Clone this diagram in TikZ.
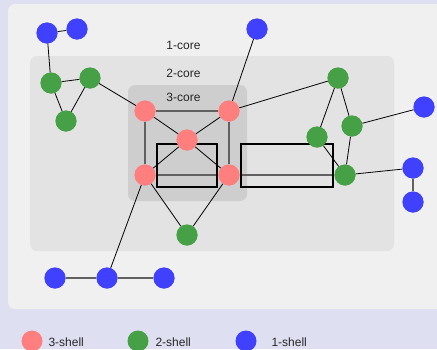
\documentclass[tikz,border=0pt]{standalone}
\usepackage{fontspec}
\setmainfont{Liberation Sans}
\definecolor{bgpage}{HTML}{DFDFF2}
\definecolor{panel}{HTML}{F0F0F0}
\definecolor{coretwo}{HTML}{E3E3E3}
\definecolor{corethree}{HTML}{CECECE}
\definecolor{shellthree}{HTML}{FF7F7F}
\definecolor{shelltwo}{HTML}{46A046}
\definecolor{shellone}{HTML}{4040FF}
\begin{document}
\begin{tikzpicture}[x=1pt,y=-1pt,
  vtx/.style={circle,inner sep=0pt,minimum size=21pt},
  red/.style={vtx,fill=shellthree},
  grn/.style={vtx,fill=shelltwo},
  blu/.style={vtx,fill=shellone},
  edge/.style={draw=black,line width=0.8pt},
  flat/.style={draw=black!62,line width=1.3pt},
  corelabel/.style={font=\fontsize{12}{14}\selectfont,text=black!85},
  legendlabel/.style={font=\fontsize{12}{14}\selectfont,text=black!85,anchor=west},
  hl/.style={draw=black,line width=2pt}]
\useasboundingbox (0,0) rectangle (437,349);
\fill[bgpage] (0,0) rectangle (437,349);
% nested cores
\fill[panel,rounded corners=7pt] (8,4) rectangle (450,309);
\fill[coretwo,rounded corners=7pt] (30,56) rectangle (394,251);
\fill[corethree,rounded corners=7pt] (128,85) rectangle (247,201);
\node[corelabel] (l1) at (183.5,45.5) {1-core};
\node[corelabel] (l2) at (183.5,73) {2-core};
\node[corelabel] (l3) at (183.5,97) {3-core};
% vertices (placed first so the edges can refer to them)
\node[blu] (b1) at (47,33) {};
\node[blu] (b2) at (77,29) {};
\node[blu] (b3) at (257,29) {};
\node[blu] (b4) at (424,107) {};
\node[blu] (b5) at (413,168) {};
\node[blu] (b6) at (413,202) {};
\node[blu] (b7) at (55,278) {};
\node[blu] (b8) at (107,278) {};
\node[blu] (b9) at (164,278) {};
\node[grn] (g1) at (51,83) {};
\node[grn] (g2) at (90,78) {};
\node[grn] (g3) at (66,121) {};
\node[grn] (g4) at (338,78) {};
\node[grn] (g5) at (352,126) {};
\node[grn] (g6) at (317,137) {};
\node[grn] (g7) at (345,175) {};
\node[grn] (g8) at (187,235) {};
\node[red] (r1) at (145,111) {};
\node[red] (r2) at (229,111) {};
\node[red] (r3) at (187,140) {};
\node[red] (r4) at (145,175) {};
\node[red] (r5) at (229,175) {};
% edges
\path[edge] (b1) -- (b2) (b1) -- (g1)
  (g1) -- (g2) (g1) -- (g3) (g2) -- (g3) (g2) -- (r1)
  (b3) -- (r2) (r1) -- (r3) (r2) -- (r3) (r3) -- (r4) (r3) -- (r5)
  (r2) -- (g4) (g4) -- (g6) (g4) -- (g5) (g5) -- (b4)
  (g5) -- (g7) (g6) -- (g7) (g7) -- (b5)
  (r4) -- (b8) (r4) -- (g8) (r5) -- (g8);
\path[flat] (r1) -- (r2) (r1) -- (r4) (r2) -- (r5) (r4) -- (r5)
  (r5) -- (g7) (b7) -- (b8) (b8) -- (b9) (b5) -- (b6);
% highlighted regions
\draw[hl] (157,144) rectangle (217,187);
\draw[hl] (241,144) rectangle (333,187);
% vertices drawn again over the edges
\foreach \n/\s in {b1/blu,b2/blu,b3/blu,b4/blu,b5/blu,b6/blu,b7/blu,b8/blu,b9/blu,
  g1/grn,g2/grn,g3/grn,g4/grn,g5/grn,g6/grn,g7/grn,g8/grn,
  r1/red,r2/red,r3/red,r4/red,r5/red}
  \node[\s] at (\n) {};
% legend
\node[red] (k3) at (32,341) {};
\node[legendlabel] (t3) at (45,342) {3-shell};
\node[grn] (k2) at (138,341) {};
\node[legendlabel] (t2) at (152,342) {2-shell};
\node[blu] (k1) at (246,341) {};
\node[legendlabel] (t1) at (268,342) {1-shell};
\end{tikzpicture}
\end{document}
